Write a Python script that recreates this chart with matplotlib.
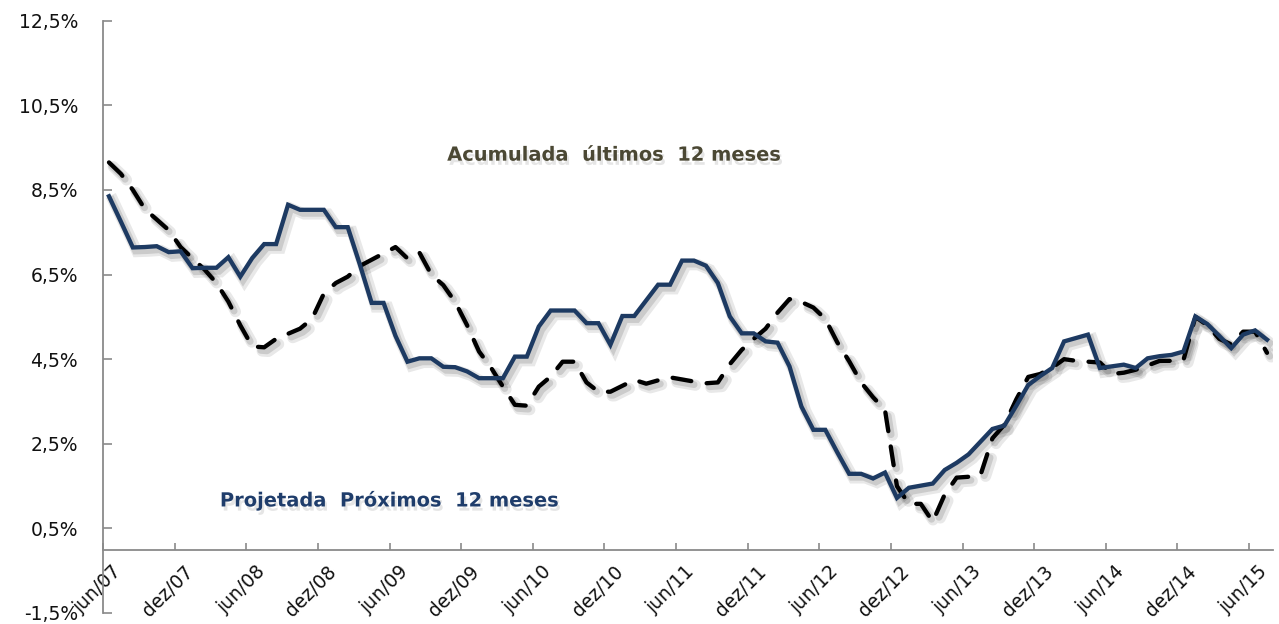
import numpy as np
import matplotlib
matplotlib.use("Agg")
import matplotlib.pyplot as plt
import matplotlib.patheffects as pe
from matplotlib.transforms import ScaledTranslation

# ---- data ----
tick_labels = ["jun/07", "dez/07", "jun/08", "dez/08", "jun/09", "dez/09", "jun/10",
               "dez/10", "jun/11", "dez/11", "jun/12", "dez/12", "jun/13", "dez/13",
               "jun/14", "dez/14", "jun/15"]

projetada = [8.35, 7.75, 7.14, 7.15, 7.17, 7.03, 7.05, 6.65, 6.66, 6.66,
             6.91, 6.45, 6.89, 7.22, 7.22, 8.15, 8.03, 8.03, 8.03, 7.62,
             7.62, 6.75, 5.83, 5.83, 5.05, 4.44, 4.52, 4.52, 4.32, 4.31,
             4.21, 4.05, 4.05, 4.05, 4.56, 4.56, 5.27, 5.65, 5.65, 5.65,
             5.35, 5.35, 4.84, 5.52, 5.52, 5.89, 6.26, 6.26, 6.83, 6.83,
             6.71, 6.30, 5.51, 5.11, 5.11, 4.92, 4.89, 4.33, 3.38, 2.83,
             2.83, 2.30, 1.79, 1.79, 1.68, 1.82, 1.22, 1.46, 1.51, 1.56,
             1.88, 2.05, 2.25, 2.55, 2.85, 2.93, 3.40, 3.89, 4.10, 4.29,
             4.92, 5.00, 5.08, 4.29, 4.33, 4.37, 4.29, 4.52, 4.57, 4.60,
             4.68, 5.51, 5.33, 5.05, 4.76, 5.08, 5.18, 4.96]

acumulada = [9.15, 8.88, 8.50, 8.05, 7.80, 7.55, 7.15, 6.88, 6.62, 6.30,
             5.86, 5.30, 4.80, 4.78, 4.98, 5.10, 5.22, 5.45, 6.05, 6.30,
             6.45, 6.70, 6.85, 7.00, 7.15, 6.88, 7.02, 6.50, 6.25, 5.85,
             5.30, 4.68, 4.30, 3.85, 3.42, 3.40, 3.85, 4.09, 4.44, 4.44,
             3.95, 3.73, 3.73, 3.87, 4.01, 3.92, 4.00, 4.07, 4.02, 3.97,
             3.93, 3.95, 4.38, 4.72, 4.98, 5.22, 5.60, 5.92, 5.85, 5.72,
             5.45, 4.90, 4.45, 3.95, 3.60, 3.30, 1.50, 1.08, 1.08, 0.66,
             1.30, 1.70, 1.72, 1.76, 2.63, 2.95, 3.55, 4.08, 4.15, 4.30,
             4.50, 4.46, 4.44, 4.42, 4.15, 4.18, 4.25, 4.35, 4.46, 4.46,
             4.48, 5.50, 5.30, 4.98, 4.85, 5.15, 5.15, 4.65]

y_ticks = [-1.5, 0.5, 2.5, 4.5, 6.5, 8.5, 10.5, 12.5]

# ---- figure ----
fig = plt.figure(figsize=(12.79, 6.24), dpi=100)
ax = fig.add_axes([103/1279, 1 - 613/624, (1273-103)/1279, (613-20.7)/624])

n = len(projetada)
x = np.arange(n) + 0.5

navy = "#1d3a62"
shadow_fx = [pe.SimpleLineShadow(offset=(3, -3), shadow_color="black", alpha=0.09, linewidth=8),
             pe.SimpleLineShadow(offset=(2, -2.5), shadow_color="black", alpha=0.12, linewidth=5),
             pe.Normal()]

ax.plot(x, acumulada, color="black", lw=3.1, linestyle=(0, (4.4, 3.6)),
        dash_capstyle="round", solid_joinstyle="round", path_effects=shadow_fx, zorder=3)
ax.plot(x, projetada, color=navy, lw=3.1, solid_joinstyle="miter",
        path_effects=shadow_fx, zorder=4)

ax.set_xlim(0, n)
ax.set_ylim(-1.5, 12.5)

ax.set_yticks(y_ticks)
ax.set_yticklabels([f"{v:.1f}%".replace(".", ",") for v in y_ticks])
ax.set_xticks(np.arange(0, n, 6)[:len(tick_labels)])
ax.set_xticklabels(tick_labels)

for s in ["top", "right"]:
    ax.spines[s].set_visible(False)
ax.spines["bottom"].set_position(("data", 0))
for s in ["left", "bottom"]:
    ax.spines[s].set_color("#8a8a8a")
    ax.spines[s].set_linewidth(1.3)

ax.tick_params(axis="y", direction="in", length=6.5, width=1.2, color="#8a8a8a",
               labelsize=13.5, pad=18, labelcolor="#111111")
ax.tick_params(axis="x", direction="in", length=5, width=1.2, color="#8a8a8a",
               labelsize=13.5, pad=9, labelcolor="#111111")

offset = ScaledTranslation(9/100, 0, fig.dpi_scale_trans)
for lab in ax.get_xticklabels():
    lab.set_rotation(45)
    lab.set_ha("right")
    lab.set_va("top")
    lab.set_rotation_mode("anchor")
    lab.set_transform(lab.get_transform() + offset)

txt_fx = [pe.SimplePatchShadow(offset=(1.5, -3), shadow_rgbFace="black", alpha=0.10),
          pe.Normal()]
ax.text(0.437, 0.773, "Acumulada  últimos  12 meses", transform=ax.transAxes,
        ha="center", va="center", fontsize=14, fontweight="bold", color="#4b4834",
        path_effects=txt_fx)
ax.text(0.245, 0.19, "Projetada  Próximos  12 meses", transform=ax.transAxes,
        ha="center", va="center", fontsize=14, fontweight="bold", color="#1f3d6b",
        path_effects=txt_fx)

fig.savefig("out.png", dpi=100)
